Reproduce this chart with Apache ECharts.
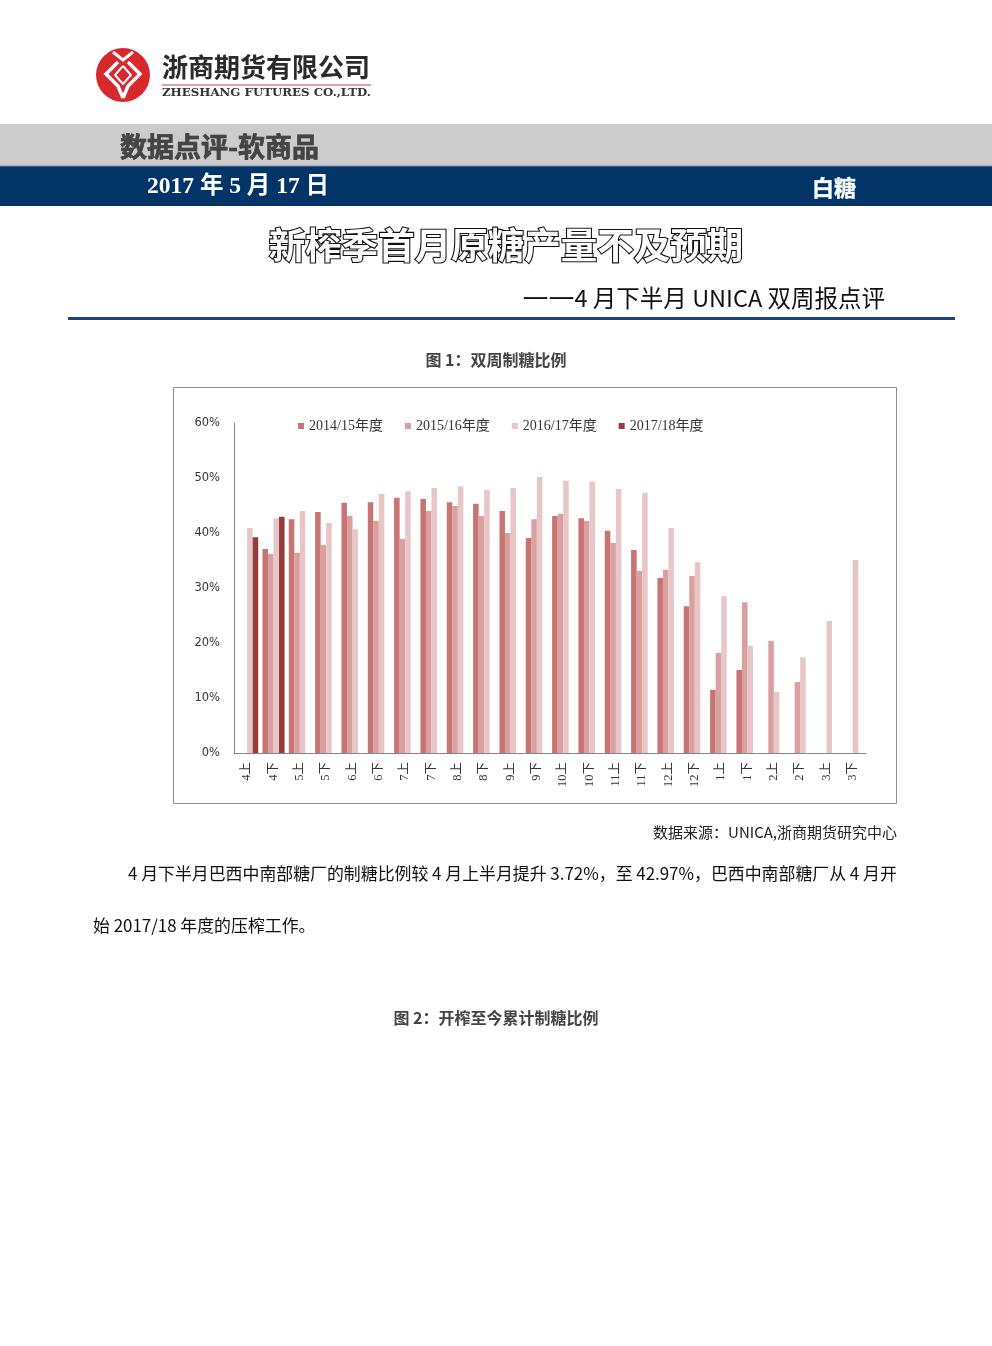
<!DOCTYPE html>
<html>
<head>
<meta charset="utf-8">
<script src="https://cdn.jsdelivr.net/npm/echarts@6/dist/echarts.min.js"></script>
<style>
html,body{margin:0;padding:0;background:#fff;}
#page{width:992px;height:1346px;}
</style>
</head>
<body>
<div id="page"></div>
<script>
// ---- data ----
var categories = ['4上','4下','5上','5下','6上','6下','7上','7下','8上','8下','9上','9下','10上','10下','11上','11下','12上','12下','1上','1下','2上','2下','3上','3下'];
var seriesNames = ['2014/15年度','2015/16年度','2016/17年度','2017/18年度'];
var s1415 = [null,37.1,42.5,43.8,45.5,45.6,46.4,46.2,45.6,45.3,44.0,39.1,43.1,42.7,40.4,36.9,31.8,26.7,11.5,15.1,null,null,null,null];
var s1516 = [null,36.2,36.4,37.8,43.1,42.2,38.9,44.0,44.9,43.1,40.0,42.5,43.5,42.2,38.2,33.1,33.3,32.2,18.2,27.4,20.4,12.9,null,null];
var s1617 = [40.9,42.7,44.0,41.8,40.7,47.1,47.6,48.2,48.5,47.8,48.2,50.2,49.5,49.3,48.0,47.3,40.9,34.7,28.5,19.5,11.1,17.4,24.0,35.1];
var s1718 = [39.25,42.97,null,null,null,null,null,null,null,null,null,null,null,null,null,null,null,null,null,null,null,null,null,null];
var yTicks = {min:0, max:60, interval:10};
var colors = ['#c87474','#d9a09f','#e8c5c7','#963a3a'];

var CJK = "'Noto Sans CJK SC','Noto Sans',sans-serif";
var SERIF = "'Liberation Serif','Noto Sans CJK SC',serif";

var chart = echarts.init(document.getElementById('page'), null, {renderer:'canvas'});

function txt(x,y,text,font,fill,align,extra){
  var st = {x:x,y:y,text:text,font:font,fill:fill,textAlign:align||'left',textVerticalAlign:'middle'};
  if(extra){for(var k in extra){st[k]=extra[k];}}
  return {type:'text',silent:true,style:st,z:10};
}

var graphics = [
  // logo circle
  {type:'circle',shape:{cx:123,cy:75,r:27},style:{fill:'#d7282d'}},
  {type:'polyline',shape:{points:[[113,52],[123,60],[133,52]]},style:{stroke:'#fff',lineWidth:3,fill:null}},
  {type:'polyline',shape:{points:[[118,62],[106,74],[118,86],[123,98]]},style:{stroke:'#fff',lineWidth:3.5,fill:null}},
  {type:'polyline',shape:{points:[[128,62],[140,74],[128,86],[123,98]]},style:{stroke:'#fff',lineWidth:3.5,fill:null}},
  {type:'polyline',shape:{points:[[123,66],[115,75],[123,84],[131,75],[123,66]]},style:{stroke:'#fff',lineWidth:2,fill:null}},
  txt(162,67,'浙商期货有限公司',"bold 26px "+CJK,'#2a2a2a'),
  {type:'line',shape:{x1:162,y1:85,x2:371,y2:85},style:{stroke:'#b8474a',lineWidth:1}},
  txt(162,93,'ZHESHANG FUTURES CO.,LTD.',"bold 11.8px 'DejaVu Serif',serif",'#333'),
  // gray band
  {type:'rect',shape:{x:0,y:124,width:992,height:42},style:{fill:'#cccccc'}},
  txt(120,147,'数据点评-软商品',"bold 27px "+CJK,'#444',null,{stroke:'#222',lineWidth:0.6}),
  // navy band
  {type:'rect',shape:{x:0,y:166,width:992,height:40},style:{fill:'#023467'}},
  {type:'line',shape:{x1:0,y1:166,x2:992,y2:166},style:{stroke:'#6f8fb0',lineWidth:1}},
  txt(147,187,'2017 年 5 月 17 日',"bold 23.5px "+SERIF,'#fff'),
  txt(812,188,'白糖',"bold 22px "+CJK,'#fff',null,{stroke:'#9fc0e0',lineWidth:0.6}),
  // title
  txt(506,245,'新榨季首月原糖产量不及预期',"bold 36.5px "+CJK,'#fff','center',{stroke:'#111',lineWidth:2.2}),
  {type:'text',silent:true,z:10,style:{x:885,y:298,textAlign:'right',textVerticalAlign:'middle',
    text:'{d|——}{t|4 月下半月 UNICA 双周报点评}',
    rich:{d:{font:"26px 'DejaVu Sans',sans-serif",fill:'#111'},t:{font:"23.5px "+CJK,fill:'#111'}}}},
  {type:'rect',shape:{x:68,y:317,width:887,height:3},style:{fill:'#1b4778'}},
  // caption
  txt(496,360,'图 1：双周制糖比例',"bold 16px "+CJK,'#444','center'),
  // chart frame
  {type:'rect',shape:{x:173.5,y:387.5,width:723,height:416},style:{fill:null,stroke:'#8c8c8c',lineWidth:1},z:-1},
  // source
  txt(897,832,'数据来源：UNICA,浙商期货研究中心',"15px "+CJK,'#222','right'),
  txt(128,874,'4 月下半月巴西中南部糖厂的制糖比例较 4 月上半月提升 3.72%，至 42.97%，巴西中南部糖厂从 4 月开',"16.9px "+CJK,'#111'),
  txt(93,926,'始 2017/18 年度的压榨工作。',"16.9px "+CJK,'#111'),
  txt(496,1018,'图 2：开榨至今累计制糖比例',"bold 16px "+CJK,'#444','center')
];

var option = {
  backgroundColor:'#fff',
  animation:false,
  color:colors,
  graphic:graphics,
  legend:{
    left:293, top:414,
    itemWidth:6, itemHeight:6, itemGap:22,
    icon:'rect',
    textStyle:{fontFamily:SERIF,fontSize:14,color:'#333'},
    data:seriesNames
  },
  grid:{left:234, top:423, width:632, height:330, containLabel:false},
  xAxis:{
    type:'category', data:categories,
    axisLine:{lineStyle:{color:'#868686',width:1}},
    axisTick:{show:false},
    axisLabel:{rotate:90, interval:0, fontFamily:SERIF, fontSize:12.5, color:'#333', margin:9}
  },
  yAxis:{
    type:'value', min:yTicks.min, max:yTicks.max, interval:yTicks.interval,
    axisLine:{show:true, lineStyle:{color:'#868686',width:1}},
    axisTick:{show:false},
    splitLine:{show:false},
    axisLabel:{formatter:'{value}%', fontFamily:"'DejaVu Sans',sans-serif", fontSize:11.5, color:'#333', margin:14}
  },
  series:[
    {name:seriesNames[0], type:'bar', data:s1415, barGap:'0%', barCategoryGap:'16%'},
    {name:seriesNames[1], type:'bar', data:s1516, barGap:'0%', barCategoryGap:'16%'},
    {name:seriesNames[2], type:'bar', data:s1617, barGap:'0%', barCategoryGap:'16%'},
    {name:seriesNames[3], type:'bar', data:s1718, barGap:'0%', barCategoryGap:'16%'}
  ]
};
chart.setOption(option);
</script>
</body>
</html>
